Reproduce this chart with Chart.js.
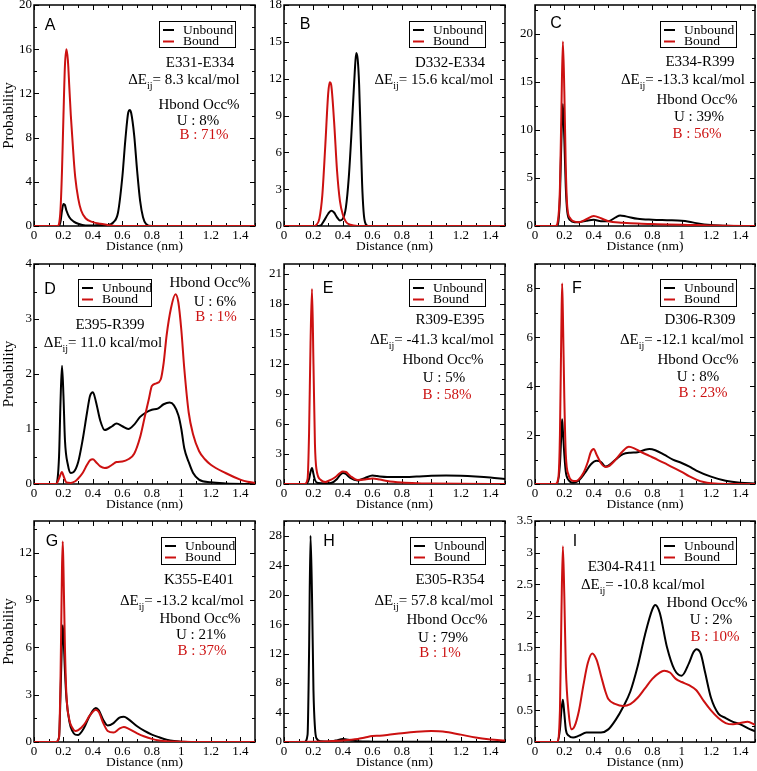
<!DOCTYPE html>
<html>
<head>
<meta charset="utf-8">
<script src="https://cdn.jsdelivr.net/npm/chart.js@4.4.1/dist/chart.umd.min.js"></script>
<style>
  html, body { margin: 0; padding: 0; background: #fff; overflow: hidden; }
  #wrap { position: relative; width: 757px; height: 771px; }
  canvas { position: absolute; }
</style>
</head>
<body>
<div id="wrap"></div>
<script>
// ---- data (distance in nm, probability) ----
const distA_U = [0, 0.17, 0.18, 0.19, 0.2, 0.21, 0.22, 0.24, 0.27, 0.3, 0.35, 0.4, 0.45, 0.5, 0.54, 0.57, 0.6, 0.62, 0.64, 0.65, 0.66, 0.68, 0.7, 0.72, 0.74, 0.76, 0.8, 1.5];
const probA_U = [0, 0, 0.4, 1.4, 2, 1.9, 1.4, 0.8, 0.4, 0.2, 0.05, 0.05, 0.1, 0.1, 0.35, 1.2, 4.5, 7.8, 10.3, 10.5, 10.2, 8.2, 5, 2.3, 0.8, 0.2, 0, 0];
const distA_B = [0, 0.16, 0.17, 0.18, 0.19, 0.2, 0.21, 0.22, 0.23, 0.24, 0.25, 0.26, 0.27, 0.28, 0.3, 0.32, 0.35, 0.4, 0.45, 0.5, 0.55, 1.5];
const probA_B = [0, 0, 0.2, 1.5, 5, 10, 14.5, 16, 15, 12.5, 10, 8, 6, 4.4, 2.5, 1.4, 0.7, 0.35, 0.2, 0.1, 0, 0];

const distB_U = [0, 0.22, 0.25, 0.27, 0.3, 0.32, 0.34, 0.36, 0.38, 0.4, 0.42, 0.44, 0.46, 0.48, 0.49, 0.5, 0.51, 0.52, 0.53, 0.54, 0.55, 0.57, 1.5];
const probB_U = [0, 0, 0.05, 0.4, 1, 1.25, 1.1, 0.7, 0.45, 0.6, 1.5, 4, 8, 12.5, 14.1, 13.6, 11.5, 7.5, 3.5, 1.2, 0.3, 0, 0];
const distB_B = [0, 0.2, 0.22, 0.24, 0.26, 0.28, 0.3, 0.31, 0.32, 0.34, 0.36, 0.38, 0.4, 0.42, 0.45, 0.5, 1.5];
const probB_B = [0, 0, 0.1, 0.6, 2.5, 6.5, 10.8, 11.7, 11.5, 8.5, 4.5, 2, 0.9, 0.35, 0.1, 0, 0];

const distC_U = [0, 0.15, 0.16, 0.17, 0.18, 0.19, 0.2, 0.21, 0.22, 0.24, 0.27, 0.3, 0.35, 0.4, 0.45, 0.5, 0.55, 0.58, 0.62, 0.7, 0.8, 0.9, 1.0, 1.05, 1.1, 1.2, 1.3, 1.4, 1.5];
const probC_U = [0, 0, 0.5, 3, 9, 12.7, 9, 4, 1.5, 0.6, 0.4, 0.4, 0.55, 0.65, 0.5, 0.5, 0.9, 1.1, 1.0, 0.75, 0.65, 0.6, 0.55, 0.45, 0.3, 0.1, 0.03, 0, 0];
const distC_B = [0, 0.14, 0.16, 0.17, 0.18, 0.19, 0.2, 0.21, 0.22, 0.24, 0.26, 0.3, 0.35, 0.4, 0.45, 0.5, 0.6, 0.7, 0.8, 0.9, 1.0, 1.1, 1.2, 1.3, 1.5];
const probC_B = [0, 0, 1, 4, 12, 19.2, 14, 6, 2, 0.8, 0.5, 0.4, 0.7, 1.05, 0.8, 0.5, 0.35, 0.25, 0.2, 0.15, 0.12, 0.1, 0.05, 0.02, 0];

const distD_U = [0, 0.15, 0.17, 0.18, 0.19, 0.2, 0.21, 0.23, 0.25, 0.27, 0.3, 0.33, 0.36, 0.38, 0.4, 0.42, 0.45, 0.48, 0.5, 0.53, 0.56, 0.6, 0.64, 0.68, 0.72, 0.76, 0.8, 0.84, 0.88, 0.92, 0.95, 0.98, 1.0, 1.02, 1.05, 1.08, 1.12, 1.2, 1.3, 1.5];
const probD_U = [0, 0, 0.5, 1.5, 2.15, 1.6, 0.8, 0.35, 0.2, 0.22, 0.4, 0.8, 1.3, 1.6, 1.67, 1.5, 1.15, 0.98, 1.0, 1.05, 1.1, 1.05, 1.0, 1.08, 1.22, 1.3, 1.35, 1.37, 1.45, 1.48, 1.43, 1.25, 1.0, 0.65, 0.4, 0.2, 0.08, 0.03, 0.01, 0];
const distD_B = [0, 0.15, 0.17, 0.19, 0.2, 0.22, 0.25, 0.28, 0.3, 0.33, 0.36, 0.38, 0.4, 0.42, 0.45, 0.48, 0.5, 0.53, 0.56, 0.6, 0.64, 0.68, 0.72, 0.75, 0.78, 0.8, 0.83, 0.86, 0.88, 0.9, 0.93, 0.96, 0.98, 1.0, 1.02, 1.05, 1.08, 1.12, 1.16, 1.2, 1.3, 1.4, 1.45, 1.5];
const probD_B = [0, 0, 0.1, 0.22, 0.15, 0.03, 0.02, 0.05, 0.1, 0.2, 0.35, 0.43, 0.45, 0.4, 0.32, 0.29, 0.3, 0.35, 0.4, 0.41, 0.45, 0.55, 0.85, 1.2, 1.55, 1.78, 1.83, 1.9, 2.2, 2.7, 3.2, 3.45, 3.3, 2.8, 2.1, 1.3, 0.9, 0.6, 0.45, 0.35, 0.2, 0.08, 0.04, 0.02];

const distE_U = [0, 0.15, 0.17, 0.18, 0.19, 0.2, 0.21, 0.23, 0.28, 0.32, 0.36, 0.38, 0.4, 0.42, 0.45, 0.5, 0.55, 0.6, 0.65, 0.7, 0.8, 0.9, 1.0, 1.1, 1.2, 1.3, 1.4, 1.5];
const probE_U = [0, 0, 0.5, 1.2, 1.6, 1.0, 0.4, 0.1, 0.05, 0.1, 0.5, 0.9, 1.1, 1.0, 0.6, 0.35, 0.6, 0.85, 0.75, 0.7, 0.7, 0.75, 0.82, 0.85, 0.82, 0.75, 0.65, 0.5];
const distE_B = [0, 0.14, 0.16, 0.17, 0.18, 0.19, 0.2, 0.21, 0.22, 0.25, 0.28, 0.3, 0.35, 0.38, 0.4, 0.42, 0.45, 0.5, 0.55, 0.6, 0.65, 0.7, 0.8, 0.9, 1.0, 1.2, 1.5];
const probE_B = [0, 0, 0.5, 5, 14, 19.5, 12, 4, 1.5, 0.4, 0.2, 0.3, 0.7, 1.1, 1.25, 1.2, 0.8, 0.4, 0.45, 0.55, 0.45, 0.3, 0.15, 0.08, 0.05, 0.02, 0];

const distF_U = [0, 0.15, 0.17, 0.18, 0.185, 0.19, 0.2, 0.21, 0.23, 0.26, 0.28, 0.3, 0.34, 0.38, 0.42, 0.45, 0.48, 0.5, 0.55, 0.6, 0.65, 0.7, 0.75, 0.78, 0.82, 0.88, 0.94, 1.0, 1.05, 1.1, 1.2, 1.3, 1.4, 1.5];
const probF_U = [0, 0, 0.8, 2.1, 2.65, 2.2, 1.2, 0.5, 0.15, 0.05, 0.08, 0.15, 0.45, 0.8, 0.95, 0.9, 0.72, 0.75, 1.0, 1.22, 1.28, 1.3, 1.4, 1.43, 1.38, 1.2, 1.0, 0.86, 0.72, 0.55, 0.3, 0.13, 0.05, 0.02];
const distF_B = [0, 0.14, 0.16, 0.17, 0.18, 0.185, 0.19, 0.2, 0.21, 0.23, 0.25, 0.28, 0.3, 0.33, 0.36, 0.38, 0.4, 0.42, 0.45, 0.48, 0.5, 0.55, 0.6, 0.64, 0.68, 0.72, 0.78, 0.84, 0.9, 0.95, 1.0, 1.05, 1.1, 1.15, 1.2, 1.3, 1.5];
const probF_B = [0, 0, 0.3, 2, 6.5, 8.2, 7, 3.5, 1.2, 0.35, 0.15, 0.12, 0.2, 0.45, 0.9, 1.3, 1.43, 1.2, 0.85, 0.7, 0.72, 1.0, 1.35, 1.52, 1.45, 1.32, 1.15, 0.98, 0.8, 0.65, 0.5, 0.32, 0.18, 0.08, 0.03, 0, 0];

const distG_U = [0, 0.15, 0.17, 0.18, 0.19, 0.195, 0.2, 0.21, 0.22, 0.24, 0.26, 0.28, 0.3, 0.34, 0.38, 0.42, 0.44, 0.47, 0.5, 0.54, 0.58, 0.61, 0.64, 0.7, 0.75, 0.8, 0.85, 0.9, 0.95, 1.0, 1.1, 1.5];
const probG_U = [0, 0, 0.3, 3, 6.5, 7.4, 6.8, 4.5, 2.8, 1.3, 0.7, 0.47, 0.45, 0.9, 1.7, 2.15, 2.0, 1.4, 1.05, 1.2, 1.55, 1.6, 1.45, 1.0, 0.7, 0.47, 0.3, 0.15, 0.06, 0.02, 0, 0];
const distG_B = [0, 0.15, 0.17, 0.18, 0.19, 0.195, 0.2, 0.21, 0.22, 0.24, 0.26, 0.28, 0.3, 0.34, 0.38, 0.42, 0.44, 0.47, 0.5, 0.54, 0.58, 0.61, 0.64, 0.7, 0.75, 0.8, 0.85, 0.9, 1.0, 1.1, 1.5];
const probG_B = [0, 0, 0.3, 4, 11, 12.7, 11, 6, 3, 1.4, 0.9, 0.7, 0.75, 1.1, 1.7, 2.05, 1.9, 1.2, 0.7, 0.6, 0.85, 0.95, 0.85, 0.55, 0.35, 0.2, 0.1, 0.05, 0.02, 0, 0];

const distH_U = [0, 0.14, 0.16, 0.17, 0.18, 0.19, 0.2, 0.21, 0.22, 0.25, 0.3, 0.35, 0.4, 0.45, 0.5, 0.6, 0.8, 1.0, 1.5];
const probH_U = [0, 0, 1, 12, 28, 20, 7, 2, 0.5, 0.1, 0.05, 0.2, 0.4, 0.25, 0.1, 0.05, 0.02, 0.02, 0];
const distH_B = [0, 0.2, 0.3, 0.4, 0.5, 0.55, 0.6, 0.65, 0.7, 0.8, 0.9, 1.0, 1.05, 1.1, 1.2, 1.3, 1.4, 1.5];
const probH_B = [0, 0.05, 0.1, 0.2, 0.4, 0.6, 0.8, 0.85, 0.95, 1.2, 1.4, 1.5, 1.45, 1.35, 1.0, 0.6, 0.35, 0.2];

const distI_U = [0, 0.15, 0.17, 0.18, 0.19, 0.2, 0.21, 0.23, 0.26, 0.3, 0.35, 0.4, 0.45, 0.5, 0.55, 0.6, 0.65, 0.7, 0.75, 0.8, 0.82, 0.85, 0.9, 0.95, 1.0, 1.05, 1.08, 1.1, 1.13, 1.16, 1.2, 1.25, 1.3, 1.35, 1.4, 1.45, 1.5];
const probI_U = [0, 0, 0.2, 0.5, 0.67, 0.45, 0.2, 0.1, 0.07, 0.1, 0.15, 0.15, 0.15, 0.2, 0.35, 0.55, 0.8, 1.2, 1.7, 2.1, 2.17, 2.05, 1.5, 1.15, 1.05, 1.25, 1.42, 1.47, 1.4, 1.1, 0.7, 0.45, 0.38, 0.32, 0.28, 0.22, 0.17];
const distI_B = [0, 0.15, 0.17, 0.18, 0.19, 0.2, 0.21, 0.23, 0.25, 0.27, 0.3, 0.33, 0.36, 0.39, 0.42, 0.45, 0.48, 0.5, 0.55, 0.6, 0.65, 0.7, 0.75, 0.8, 0.85, 0.88, 0.92, 0.96, 1.0, 1.05, 1.1, 1.15, 1.2, 1.25, 1.3, 1.35, 1.4, 1.45, 1.5];
const probI_B = [0, 0, 0.5, 2.0, 3.1, 2.3, 1.2, 0.45, 0.2, 0.25, 0.5, 0.9, 1.25, 1.4, 1.3, 1.05, 0.8, 0.68, 0.6, 0.57, 0.6, 0.7, 0.85, 1.0, 1.1, 1.13, 1.1, 1.0, 0.95, 0.9, 0.82, 0.65, 0.5, 0.38, 0.3, 0.28, 0.3, 0.32, 0.27];

// ---- labels ----
const panelLetters = ['A', 'B', 'C', 'D', 'E', 'F', 'G', 'H', 'I'];
const pairNames = ['E331-E334', 'D332-E334', 'E334-R399', 'E395-R399', 'R309-E395', 'D306-R309', 'K355-E401', 'E305-R354', 'E304-R411'];
const deltaE = ['8.3', '15.6', '-13.3', '11.0', '-41.3', '-12.1', '-13.2', '57.8', '-10.8'];
const occUnbound = ['8%', null, '39%', '6%', '5%', '8%', '21%', '79%', '2%'];
const occBound = ['71%', null, '56%', '1%', '58%', '23%', '37%', '1%', '10%'];
const yMaxes = [20, 18, 23, 4, 22, 9, 14, 30, 3.5];
const yMajor = [4, 3, 5, 1, 3, 2, 3, 4, 0.5];

const series = [
  [distA_U, probA_U, distA_B, probA_B],
  [distB_U, probB_U, distB_B, probB_B],
  [distC_U, probC_U, distC_B, probC_B],
  [distD_U, probD_U, distD_B, probD_B],
  [distE_U, probE_U, distE_B, probE_B],
  [distF_U, probF_U, distF_B, probF_B],
  [distG_U, probG_U, distG_B, probG_B],
  [distH_U, probH_U, distH_B, probH_B],
  [distI_U, probI_U, distI_B, probI_B],
];

// text positions, relative to the plot area (px)
const notePos = [
  {letter: [16, 21], legend: [125, 16, 76, 26], pair: [166, 58], dE: [150, 75], hb: [165, 100], u: [164, 116], b: [170, 130]},
  {letter: [21, 20], legend: [125, 16, 76, 26], pair: [166, 58], dE: [150, 75]},
  {letter: [21, 19], legend: [125, 16, 76, 26], pair: [165, 57], dE: [148, 75], hb: [162, 95], u: [164, 112], b: [162, 129]},
  {letter: [16, 26], legend: [44, 15, 73, 27], pair: [76, 61], dE: [69, 79], hb: [176, 19], u: [181, 38], b: [182, 53]},
  {letter: [44, 25], legend: [125, 15, 76, 27], pair: [166, 56], dE: [148, 76], hb: [159, 96], u: [160, 114], b: [163, 131]},
  {letter: [42, 25], legend: [125, 15, 76, 27], pair: [165, 56], dE: [147, 76], hb: [163, 96], u: [163, 113], b: [168, 129]},
  {letter: [18, 21], legend: [127, 16, 74, 27], pair: [165, 59], dE: [148, 80], hb: [166, 98], u: [167, 114], b: [168, 130]},
  {letter: [45, 21], legend: [126, 16, 75, 27], pair: [166, 59], dE: [150, 80], hb: [163, 99], u: [159, 117], b: [156, 132]},
  {letter: [40, 21], legend: [125, 16, 76, 27], pair: [87, 46], dE: [108, 64], hb: [172, 82], u: [176, 99], b: [180, 116]},
];

const RED = '#cc1111';
const SERIF = '"Liberation Serif", "Times New Roman", serif';

// grid placement of the 9 canvases
const colLeft = [0, 250, 500], colWidth = [260, 260, 257], yAxisW = [34, 34, 35], padRight = [5, 5, 2];
const rowTop = [0, 255, 512], padTop = [5, 9, 9], rowHeight = [257, 260, 261];

function fmt(v) { return String(parseFloat(v.toFixed(2))); }

function makePlugin(i) {
  const pos = notePos[i];
  return {
    id: 'panelDeco' + i,
    beforeDatasetsDraw(chart) {
      const {ctx, chartArea: a, scales: {x, y}} = chart;
      ctx.save();
      ctx.strokeStyle = '#000';
      ctx.lineWidth = 1;
      ctx.beginPath();
      for (let k = 0; k * 0.1 <= 1.5 + 1e-9; k++) {
        const px = Math.round(x.getPixelForValue(k * 0.1)) + 0.5;
        const len = k % 2 === 0 ? 5 : 3;
        ctx.moveTo(px, a.bottom); ctx.lineTo(px, a.bottom - len);
        ctx.moveTo(px, a.top); ctx.lineTo(px, a.top + len);
      }
      const minor = yMajor[i] / 2;
      for (let k = 0; k * minor <= yMaxes[i] + 1e-9; k++) {
        const py = Math.round(y.getPixelForValue(k * minor)) + 0.5;
        const len = k % 2 === 0 ? 5 : 3;
        ctx.moveTo(a.left, py); ctx.lineTo(a.left + len, py);
        ctx.moveTo(a.right, py); ctx.lineTo(a.right - len, py);
      }
      ctx.stroke();
      ctx.lineWidth = 1.5;
      ctx.strokeRect(a.left, a.top, a.right - a.left, a.bottom - a.top);
      ctx.restore();
    },
    afterDatasetsDraw(chart) {
      const {ctx, chartArea: a} = chart;
      ctx.save();
      ctx.textBaseline = 'middle';

      // panel letter
      ctx.fillStyle = '#000';
      ctx.textAlign = 'center';
      ctx.font = '16px "Liberation Sans", Arial, sans-serif';
      ctx.fillText(panelLetters[i], a.left + pos.letter[0], a.top + pos.letter[1]);

      // legend box
      const [lx, ly, lw, lh] = pos.legend;
      const bx = a.left + lx, by = a.top + ly;
      ctx.fillStyle = '#fff';
      ctx.fillRect(bx, by, lw, lh);
      ctx.strokeStyle = '#000';
      ctx.lineWidth = 1;
      ctx.strokeRect(bx + 0.5, by + 0.5, lw, lh);
      ctx.lineWidth = 2;
      [['Unbound', '#000', 9], ['Bound', RED, 20.5]].forEach(([txt, col, dy]) => {
        ctx.strokeStyle = col;
        ctx.beginPath();
        ctx.moveTo(bx + 4, by + dy); ctx.lineTo(bx + 15, by + dy);
        ctx.stroke();
        ctx.fillStyle = '#000';
        ctx.textAlign = 'left';
        ctx.font = '13.5px ' + SERIF;
        ctx.fillText(txt, bx + 24, by + dy);
      });

      // annotation text
      ctx.textAlign = 'center';
      ctx.font = '15px ' + SERIF;
      ctx.fillStyle = '#000';
      ctx.fillText(pairNames[i], a.left + pos.pair[0], a.top + pos.pair[1]);

      // ΔEij line with subscript
      const main1 = '\u0394E', sub = 'ij', main2 = '= ' + deltaE[i] + ' kcal/mol';
      ctx.font = '15px ' + SERIF;
      const w1 = ctx.measureText(main1).width, w3 = ctx.measureText(main2).width;
      ctx.font = '10px ' + SERIF;
      const w2 = ctx.measureText(sub).width;
      let sx = a.left + pos.dE[0] - (w1 + w2 + w3) / 2;
      const sy = a.top + pos.dE[1];
      ctx.textAlign = 'left';
      ctx.font = '15px ' + SERIF;
      ctx.fillText(main1, sx, sy);
      ctx.font = '10px ' + SERIF;
      ctx.fillText(sub, sx + w1, sy + 6);
      ctx.font = '15px ' + SERIF;
      ctx.fillText(main2, sx + w1 + w2, sy);

      if (pos.hb) {
        ctx.textAlign = 'center';
        ctx.fillText('Hbond Occ%', a.left + pos.hb[0], a.top + pos.hb[1]);
        ctx.fillText('U : ' + occUnbound[i], a.left + pos.u[0], a.top + pos.u[1]);
        ctx.fillStyle = RED;
        ctx.fillText('B : ' + occBound[i], a.left + pos.b[0], a.top + pos.b[1]);
      }
      ctx.restore();
    }
  };
}

const wrap = document.getElementById('wrap');

for (let i = 0; i < 9; i++) {
  const col = i % 3, row = Math.floor(i / 3);
  const cv = document.createElement('canvas');
  cv.width = colWidth[col];
  cv.height = rowHeight[row];
  cv.style.left = colLeft[col] + 'px';
  cv.style.top = rowTop[row] + 'px';
  wrap.appendChild(cv);

  const [ux, uy, bx, by] = series[i];
  const unbound = ux.map((d, k) => ({x: d, y: uy[k]}));
  const bound = bx.map((d, k) => ({x: d, y: by[k]}));

  new Chart(cv, {
    type: 'line',
    data: {
      datasets: [
        {label: 'Unbound', data: unbound, borderColor: '#000', borderWidth: 2, order: 1},
        {label: 'Bound', data: bound, borderColor: RED, borderWidth: 2, order: 0},
      ]
    },
    options: {
      responsive: false,
      animation: false,
      events: [],
      layout: {padding: {left: 0, top: padTop[row], right: padRight[col], bottom: 0}},
      elements: {
        point: {radius: 0},
        line: {cubicInterpolationMode: 'monotone', borderJoinStyle: 'round', fill: false}
      },
      plugins: {legend: {display: false}, tooltip: {enabled: false}},
      scales: {
        x: {
          type: 'linear', min: 0, max: 1.5,
          grid: {display: false, drawTicks: false},
          border: {display: false},
          afterBuildTicks: s => {
            const t = [];
            for (let k = 0; k <= 7; k++) t.push({value: +(k * 0.2).toFixed(2)});
            s.ticks = t;
          },
          afterFit: s => { s.height = 31; s.paddingLeft = 0; s.paddingRight = 0; },
          ticks: {
            color: '#000', padding: 2, maxRotation: 0, autoSkip: false,
            font: {family: SERIF, size: 13},
            callback: v => fmt(v)
          },
          title: {
            display: true, text: 'Distance (nm)', color: '#000',
            font: {family: SERIF, size: 13.5}, padding: {top: 0, bottom: 2}
          }
        },
        y: {
          type: 'linear', min: 0, max: yMaxes[i],
          grid: {display: false, drawTicks: false},
          border: {display: false},
          afterBuildTicks: s => {
            const t = [];
            for (let k = 0; k * yMajor[i] <= yMaxes[i] + 1e-9; k++) t.push({value: +(k * yMajor[i]).toFixed(2)});
            s.ticks = t;
          },
          afterFit: s => { s.width = yAxisW[col]; s.paddingTop = 0; s.paddingBottom = 0; },
          ticks: {
            color: '#000', padding: 2, autoSkip: false,
            font: {family: SERIF, size: 13},
            callback: v => fmt(v)
          },
          title: {
            display: col === 0, text: 'Probability', color: '#000',
            font: {family: SERIF, size: 15}, padding: 0
          }
        }
      }
    },
    plugins: [makePlugin(i)]
  });
}
</script>
</body>
</html>
